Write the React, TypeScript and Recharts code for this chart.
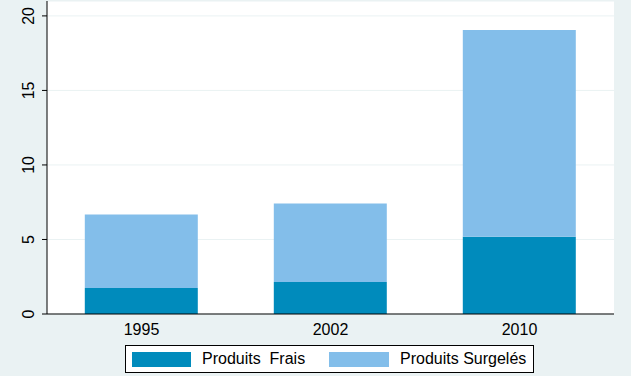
import React from 'react';
import { BarChart, Bar, XAxis, YAxis, CartesianGrid } from 'recharts';

// ─── Data ────────────────────────────────────────────────────────────────────

const years = ['1995', '2002', '2010'];
const frais = [1.75, 2.15, 5.19];
const surgeles = [4.92, 5.26, 13.87];
const yTicks = [0, 5, 10, 15, 20];

const COLORS = {
  frais: '#008BBC',
  surgeles: '#83BEEA',
  region: '#EAF2F3',
  grid: '#EAF2F3',
  ink: '#000000',
};

const FONT = '"Liberation Sans", Arial, sans-serif';
const FS = 16;

const chartData = years.map((year, i) => ({
  year,
  frais: frais[i],
  surgeles: surgeles[i],
}));

// ─── Ticks ───────────────────────────────────────────────────────────────────

function YTick(props: any) {
  const { y, payload } = props;
  return (
    <text
      transform={`translate(33.5,${y}) rotate(-90)`}
      textAnchor="middle"
      fontSize={FS}
      fontFamily={FONT}
      fill={COLORS.ink}
    >
      {payload.value}
    </text>
  );
}

function XTick(props: any) {
  const { x, payload } = props;
  return (
    <text x={x} y={335} textAnchor="middle" fontSize={FS} fontFamily={FONT} fill={COLORS.ink}>
      {payload.value}
    </text>
  );
}

// ─── Legend ──────────────────────────────────────────────────────────────────

function LegendBox() {
  const text: React.CSSProperties = {
    position: 'absolute',
    top: 4,
    fontSize: FS,
    fontFamily: FONT,
    whiteSpace: 'pre',
    lineHeight: '18px',
  };
  return (
    <div
      style={{
        position: 'absolute',
        left: 125,
        top: 345,
        width: 407,
        height: 26,
        border: '1px solid #000',
        background: '#fff',
      }}
    >
      <div style={{ position: 'absolute', left: 6, top: 6, width: 59, height: 15, background: COLORS.frais }} />
      <span style={{ ...text, left: 76 }}>{'Produits  Frais'}</span>
      <div style={{ position: 'absolute', left: 203, top: 6, width: 60, height: 15, background: COLORS.surgeles }} />
      <span style={{ ...text, left: 274 }}>Produits Surgelés</span>
    </div>
  );
}

// ─── App ─────────────────────────────────────────────────────────────────────

export default function App() {
  return (
    <div
      style={{
        position: 'fixed',
        left: 0,
        top: 0,
        width: 631,
        height: 376,
        background: COLORS.region,
      }}
    >
      <BarChart
        width={631}
        height={376}
        data={chartData}
        barCategoryGap="20%"
        margin={{ top: 1, right: 17, bottom: 0, left: 0 }}
      >
        <CartesianGrid fill="#ffffff" stroke={COLORS.grid} vertical={false} strokeWidth={1} />
        <XAxis
          dataKey="year"
          height={62}
          axisLine={{ stroke: COLORS.ink }}
          tickLine={false}
          tick={<XTick />}
          interval={0}
        />
        <YAxis
          width={47}
          domain={[0, 21]}
          ticks={yTicks}
          axisLine={{ stroke: COLORS.ink }}
          tickLine={{ stroke: COLORS.ink }}
          tickSize={5}
          tick={<YTick />}
          interval={0}
        />
        <Bar dataKey="frais" stackId="a" fill={COLORS.frais} isAnimationActive={false} />
        <Bar dataKey="surgeles" stackId="a" fill={COLORS.surgeles} isAnimationActive={false} />
      </BarChart>
      <LegendBox />
    </div>
  );
}
